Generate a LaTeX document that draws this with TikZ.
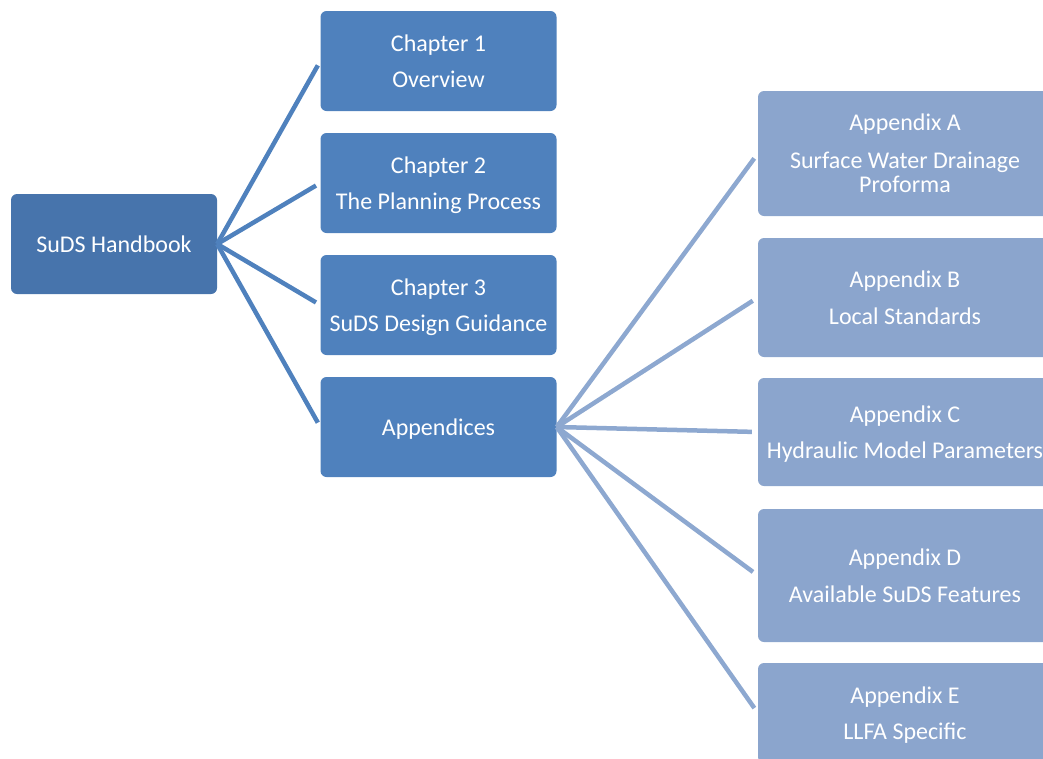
\documentclass[tikz,border=0pt]{standalone}
\usepackage{fontspec}
\setmainfont{Carlito}
\definecolor{rootblue}{HTML}{4774AC}
\definecolor{chapblue}{HTML}{4F81BD}
\definecolor{appblue}{HTML}{8BA5CD}
\definecolor{applink}{HTML}{8DA8D0}
\tikzset{
  boxbase/.style={rectangle, rounded corners=6pt, draw=none, text=white, align=center, inner sep=0pt,
    text depth=0pt, font=\fontsize{24}{24.4}\selectfont},
  rootbox/.style={boxbase, fill=rootblue, minimum width=206pt, minimum height=100pt},
  chapbox/.style={boxbase, fill=chapblue, minimum width=236pt, minimum height=100pt},
  appbox/.style={boxbase, fill=appblue, minimum width=294pt},
  chaplink/.style={draw=chapblue, line width=4.5pt, shorten >=5pt},
  applinkstyle/.style={draw=applink, line width=4.5pt, shorten >=6pt}
}
\begin{document}
\begin{tikzpicture}[x=1pt,y=-1pt]
\useasboundingbox (0,0) rectangle (1043,758);
\begin{scope}
\clip (0,0) rectangle (1043,758);
\node[rootbox] (suds) at (114,244) {SuDS Handbook};
\node[chapbox] (ch1) at (438.5,61) {Chapter 1\\[12pt]Overview};
\node[chapbox] (ch2) at (438.5,183) {Chapter 2\\[12pt]The Planning Process};
\node[chapbox] (ch3) at (438.5,305) {Chapter 3\\[12pt]SuDS Design Guidance};
\node[chapbox] (app) at (438.5,427) {Appendices};
\node[appbox, minimum height=125pt] (appA) at (905,153.5) {Appendix A\\[13pt]Surface Water Drainage\\Proforma};
\node[appbox, minimum height=119pt] (appB) at (905,297.5) {Appendix B\\[12pt]Local Standards};
\node[appbox, minimum height=108pt] (appC) at (905,432) {Appendix C\\[12pt]Hydraulic Model Parameters};
\node[appbox, minimum height=133pt] (appD) at (905,575.5) {Appendix D\\[12pt]Available SuDS Features};
\node[appbox, minimum height=100pt] (appE) at (905,713) {Appendix E\\[12pt]LLFA Specific};
\draw[chaplink] (suds.east) -- (ch1.west);
\draw[chaplink] (suds.east) -- (ch2.west);
\draw[chaplink] (suds.east) -- (ch3.west);
\draw[chaplink] (suds.east) -- (app.west);
\draw[applinkstyle] (app.east) -- (appA.west);
\draw[applinkstyle] (app.east) -- (appB.west);
\draw[applinkstyle] (app.east) -- (appC.west);
\draw[applinkstyle] (app.east) -- (appD.west);
\draw[applinkstyle] (app.east) -- (appE.west);
\end{scope}
\end{tikzpicture}
\end{document}
